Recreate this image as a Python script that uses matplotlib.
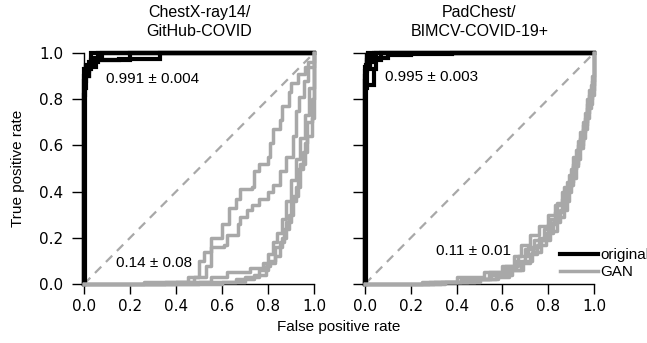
import matplotlib
matplotlib.use("Agg")
import matplotlib.pyplot as plt
import numpy as np

# ---------------- data ----------------
titles = ["ChestX-ray14/\nGitHub-COVID", "PadChest/\nBIMCV-COVID-19+"]
auc_original = ["0.991 \u00b1 0.004", "0.995 \u00b1 0.003"]
auc_gan = ["0.14 \u00b1 0.08", "0.11 \u00b1 0.01"]
ticks = [0.0, 0.2, 0.4, 0.6, 0.8, 1.0]

# left panel, original (fpr, tpr) step points
L_orig_fpr = [
    [0, 0, 0.01, 0.03, 0.03, 1],
    [0, 0.005, 0.01, 0.02, 0.06, 1],
    [0, 0, 0.005, 0.02, 0.03, 0.20, 1],
    [0, 0, 0.01, 0.05, 0.15, 0.33, 1],
    [0, 0, 0.02, 0.04, 0.08, 1],
]
L_orig_tpr = [
    [0, 0.93, 0.95, 0.96, 1.0, 1.0],
    [0, 0.85, 0.92, 0.96, 1.0, 1.0],
    [0, 0.82, 0.90, 0.93, 0.97, 1.0, 1.0],
    [0, 0.88, 0.94, 0.97, 0.975, 1.0, 1.0],
    [0, 0.90, 0.95, 0.98, 1.0, 1.0],
]
# left panel, GAN
L_gan_fpr = [
    [0, 0.26, 0.45, 0.50, 0.52, 0.55, 0.60, 0.63, 0.66, 0.68, 0.73, 0.74, 0.76, 0.80, 0.81, 0.82, 0.85, 0.86, 0.89, 0.90, 0.93, 0.96, 1.0],
    [0, 0.35, 0.48, 0.53, 0.55, 0.61, 0.62, 0.67, 0.68, 0.71, 0.73, 0.76, 0.80, 0.82, 0.85, 0.88, 0.91, 0.92, 0.935, 0.955, 0.975, 1.0],
    [0, 0.40, 0.55, 0.62, 0.72, 0.78, 0.80, 0.82, 0.84, 0.86, 0.88, 0.90, 0.92, 0.94, 0.96, 0.98, 1.0],
    [0, 0.50, 0.66, 0.74, 0.79, 0.81, 0.83, 0.86, 0.88, 0.90, 0.92, 0.94, 0.96, 0.97, 0.99, 1.0],
    [0, 0.60, 0.70, 0.76, 0.80, 0.83, 0.85, 0.87, 0.89, 0.91, 0.93, 0.95, 0.97, 0.99, 1.0, 1.0],
]
L_gan_tpr = [
    [0, 0.01, 0.03, 0.10, 0.14, 0.20, 0.26, 0.33, 0.37, 0.41, 0.42, 0.49, 0.52, 0.55, 0.61, 0.67, 0.71, 0.77, 0.83, 0.87, 0.91, 0.94, 1.0],
    [0, 0.01, 0.03, 0.08, 0.16, 0.17, 0.21, 0.26, 0.29, 0.32, 0.34, 0.37, 0.40, 0.43, 0.49, 0.55, 0.64, 0.75, 0.81, 0.88, 0.96, 1.0],
    [0, 0.01, 0.03, 0.05, 0.07, 0.09, 0.13, 0.18, 0.22, 0.28, 0.36, 0.45, 0.54, 0.63, 0.73, 0.85, 1.0],
    [0, 0.01, 0.02, 0.04, 0.08, 0.10, 0.16, 0.20, 0.27, 0.36, 0.42, 0.52, 0.61, 0.70, 0.80, 1.0],
    [0, 0.01, 0.03, 0.06, 0.09, 0.12, 0.18, 0.24, 0.30, 0.38, 0.50, 0.57, 0.64, 0.72, 0.85, 1.0],
]
# right panel, original
R_orig_fpr = [
    [0, 0, 0.01, 0.02, 0.03, 0.04, 1],
    [0, 0.005, 0.01, 0.04, 0.04, 0.05, 0.07, 1],
    [0, 0, 0.01, 0.03, 0.10, 0.20, 0.38, 1],
    [0, 0, 0.005, 0.02, 0.05, 1],
    [0, 0, 0.01, 0.015, 1],
]
R_orig_tpr = [
    [0, 0.88, 0.93, 0.97, 0.99, 1.0, 1.0],
    [0, 0.85, 0.86, 0.87, 0.93, 0.97, 1.0, 1.0],
    [0, 0.92, 0.96, 0.98, 0.99, 0.995, 1.0, 1.0],
    [0, 0.90, 0.95, 0.97, 1.0, 1.0],
    [0, 0.94, 0.97, 1.0, 1.0],
]
# right panel, GAN
R_gan_fpr = [
    [0, 0.30, 0.45, 0.55, 0.62, 0.66, 0.70, 0.74, 0.78, 0.81, 0.84, 0.87, 0.90, 0.92, 0.94, 0.96, 0.98, 1.0, 1.0],
    [0, 0.25, 0.40, 0.52, 0.60, 0.65, 0.68, 0.72, 0.76, 0.80, 0.83, 0.86, 0.89, 0.91, 0.93, 0.95, 0.97, 0.99, 1.0],
    [0, 0.35, 0.50, 0.58, 0.64, 0.68, 0.72, 0.75, 0.79, 0.82, 0.85, 0.88, 0.90, 0.92, 0.94, 0.96, 0.98, 1.0, 1.0],
    [0, 0.28, 0.42, 0.54, 0.61, 0.67, 0.71, 0.76, 0.80, 0.83, 0.86, 0.88, 0.91, 0.93, 0.95, 0.97, 0.99, 1.0],
    [0, 0.33, 0.48, 0.57, 0.63, 0.69, 0.73, 0.77, 0.81, 0.84, 0.87, 0.89, 0.91, 0.93, 0.95, 0.97, 0.985, 1.0, 1.0],
]
R_gan_tpr = [
    [0, 0.01, 0.02, 0.04, 0.07, 0.10, 0.15, 0.19, 0.24, 0.28, 0.35, 0.42, 0.50, 0.58, 0.66, 0.74, 0.84, 0.92, 1.0],
    [0, 0.01, 0.03, 0.05, 0.08, 0.12, 0.17, 0.21, 0.25, 0.30, 0.34, 0.40, 0.47, 0.55, 0.62, 0.70, 0.80, 0.90, 1.0],
    [0, 0.01, 0.02, 0.04, 0.06, 0.09, 0.13, 0.17, 0.22, 0.27, 0.32, 0.40, 0.46, 0.54, 0.63, 0.72, 0.82, 0.95, 1.0],
    [0, 0.01, 0.02, 0.05, 0.08, 0.12, 0.16, 0.20, 0.26, 0.31, 0.37, 0.44, 0.52, 0.60, 0.69, 0.78, 0.88, 1.0],
    [0, 0.01, 0.02, 0.03, 0.06, 0.10, 0.14, 0.19, 0.23, 0.29, 0.36, 0.43, 0.51, 0.59, 0.67, 0.76, 0.86, 0.96, 1.0],
]

orig_fpr = [L_orig_fpr, R_orig_fpr]
orig_tpr = [L_orig_tpr, R_orig_tpr]
gan_fpr = [L_gan_fpr, R_gan_fpr]
gan_tpr = [L_gan_tpr, R_gan_tpr]
orig_text_pos = [(0.094, 0.887), (0.087, 0.897)]
gan_text_pos = [(0.138, 0.091), (0.309, 0.144)]

# ---------------- plot ----------------
plt.rcParams['font.family'] = ['Liberation Sans', 'DejaVu Sans']
GRAY = '#a8a8a8'

fig = plt.figure(figsize=(6.47, 3.43), dpi=100)
W, H = 647, 343
axes_px = [(84, 230), (365, 229)]
ybot, ytop = 284, 53
axes = []
for (x0, w) in axes_px:
    ax = fig.add_axes([x0 / W, (H - ybot) / H, w / W, (ybot - ytop) / H])
    axes.append(ax)

for i, ax in enumerate(axes):
    ax.plot([0, 1], [0, 1], ls=(0, (4, 3)), color=GRAY, lw=1.6, zorder=1)
    for k, (f, t) in enumerate(zip(orig_fpr[i], orig_tpr[i])):
        ax.plot(f, t, drawstyle='steps-post', color='black', lw=3.0,
                solid_joinstyle='miter', clip_on=False, zorder=2,
                label='original' if k == 0 else None)
    for k, (f, t) in enumerate(zip(gan_fpr[i], gan_tpr[i])):
        ax.plot(f, t, drawstyle='steps-post', color=GRAY, lw=2.5,
                clip_on=False, zorder=3,
                label='GAN' if k == 0 else None)
    ax.set_xlim(0, 1)
    ax.set_ylim(0, 1)
    ax.set_xticks(ticks)
    ax.set_yticks(ticks)
    ax.set_xticklabels([f"{v:.1f}" for v in ticks], family='DejaVu Sans', fontsize=11)
    if i == 0:
        ax.set_yticklabels([f"{v:.1f}" for v in ticks], family='DejaVu Sans', fontsize=11)
        ax.set_ylabel('True positive rate', fontsize=11, labelpad=10)
    else:
        ax.set_yticklabels([])
    for s in ['top', 'right']:
        ax.spines[s].set_visible(False)
    for s in ['left', 'bottom']:
        ax.spines[s].set_linewidth(1.0)
    ax.tick_params(direction='out', length=7.5, width=1.0, pad=3)
    ax.tick_params(axis='y', length=9, pad=6)
    ax.set_title(titles[i], fontsize=11.5, pad=12, linespacing=1.35)
    ax.text(*orig_text_pos[i], auc_original[i], fontsize=11, ha='left', va='center')
    ax.text(*gan_text_pos[i], auc_gan[i], fontsize=11, ha='left', va='center')

fig.text((84 + 594) / 2 / W, 1 - 327 / H, 'False positive rate', fontsize=11,
         ha='center', va='center')

handles, labels = axes[1].get_legend_handles_labels()
axes[1].legend(handles, labels, loc='lower left', bbox_to_anchor=(0.85, 0.02),
               frameon=False, fontsize=11, borderpad=0, borderaxespad=0,
               handlelength=2.5, handletextpad=0.15, labelspacing=0.2)

fig.savefig('out.png', dpi=100)
